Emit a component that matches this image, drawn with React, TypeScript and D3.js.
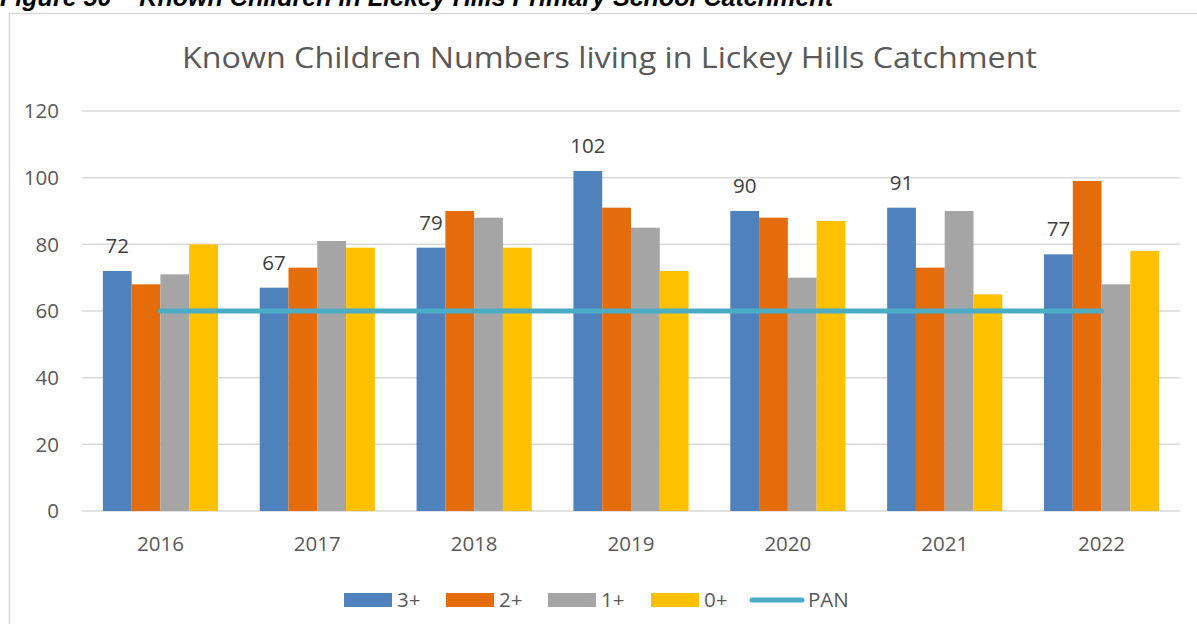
import React, { useEffect } from 'react';
import * as d3 from 'd3';

const years = ['2016', '2017', '2018', '2019', '2020', '2021', '2022'];
const seriesNames = ['3+', '2+', '1+', '0+'];
const plus3 = [72, 67, 79, 102, 90, 91, 77];
const plus2 = [68, 73, 90, 91, 88, 73, 99];
const plus1 = [71, 81, 88, 85, 70, 90, 68];
const plus0 = [80, 79, 79, 72, 87, 65, 78];
const pan = [60, 60, 60, 60, 60, 60, 60];
const yTicks = [0, 20, 40, 60, 80, 100, 120];

const colors = ['#4F81BD', '#E46C0A', '#A5A5A5', '#FFC000'];
const panColor = '#4BACC6';

const W = 1197;
const H = 624;
const font = "'Open Sans', 'Liberation Sans', sans-serif";

const App = () => {
  useEffect(() => {
    document.body.style.margin = '0';
  }, []);

  const values = [plus3, plus2, plus1, plus0];

  const x = d3.scaleBand().domain(years).range([82, 1180]).padding(0);
  const step = x.bandwidth();
  const barW = step / 5.45;
  const gap = step - barW * 4;
  const xs = d3.scaleBand().domain(seriesNames).range([gap / 2, step - gap / 2]).padding(0);
  const y = d3.scaleLinear().domain([0, 120]).range([511, 111]);

  const panLine = d3.line<number>()
    .x((d, i) => (x(years[i]) as number) + step / 2)
    .y(d => y(d));

  // legend layout
  const legendItems = [
    { name: '3+', x: 344 },
    { name: '2+', x: 446 },
    { name: '1+', x: 548 },
    { name: '0+', x: 651 },
  ];

  return (
    <svg width={W} height={H} style={{ display: 'block', background: '#fff' }}>
      <text x={0} y={6} fontFamily="'Liberation Sans Narrow', 'Liberation Sans', sans-serif"
        fontWeight="bold" fontStyle="italic" fontSize={25} fill="#000"
        textLength={833} lengthAdjust="spacingAndGlyphs">
        Figure 50 – Known Children in Lickey Hills Primary School Catchment
      </text>

      <rect x={9.5} y={13.5} width={W} height={H} fill="none" stroke="#d9d9d9" strokeWidth={1.5} />

      <text x={182} y={68} fontFamily={font} fontSize={30} fill="#595959"
        textLength={855} lengthAdjust="spacingAndGlyphs">
        Known Children Numbers living in Lickey Hills Catchment
      </text>

      {yTicks.map(t => (
        <g key={t}>
          <line x1={82} x2={1180} y1={y(t)} y2={y(t)} stroke="#d9d9d9" strokeWidth={1.5} />
          <text x={59} y={y(t)} dy="0.35em" textAnchor="end" fontFamily={font} fontSize={20.5} fill="#595959">
            {t}
          </text>
        </g>
      ))}

      {years.map((yr, i) => (
        <g key={yr} transform={`translate(${x(yr)},0)`}>
          {seriesNames.map((s, j) => (
            <rect key={s} x={xs(s)} y={y(values[j][i])} width={xs.bandwidth()}
              height={y(0) - y(values[j][i])} fill={colors[j]} />
          ))}
          <text x={(xs('3+') as number) + xs.bandwidth() / 2} y={y(plus3[i]) - 18}
            textAnchor="middle" fontFamily={font} fontSize={20.5} fill="#404040">
            {plus3[i]}
          </text>
          <text x={step / 2} y={551} textAnchor="middle" fontFamily={font} fontSize={20.5} fill="#595959">
            {yr}
          </text>
        </g>
      ))}

      <path d={panLine(pan) as string} fill="none" stroke={panColor} strokeWidth={5} strokeLinecap="round" />

      {legendItems.map((l, j) => (
        <g key={l.name}>
          <rect x={l.x} y={593} width={48} height={14} fill={colors[j]} />
          <text x={l.x + 53} y={600} dy="0.35em" fontFamily={font} fontSize={20.5} fill="#595959">{l.name}</text>
        </g>
      ))}
      <line x1={752} x2={802} y1={600} y2={600} stroke={panColor} strokeWidth={5} strokeLinecap="round" />
      <text x={808} y={600} dy="0.35em" fontFamily={font} fontSize={20.5} fill="#595959">PAN</text>
    </svg>
  );
};

export default App;
